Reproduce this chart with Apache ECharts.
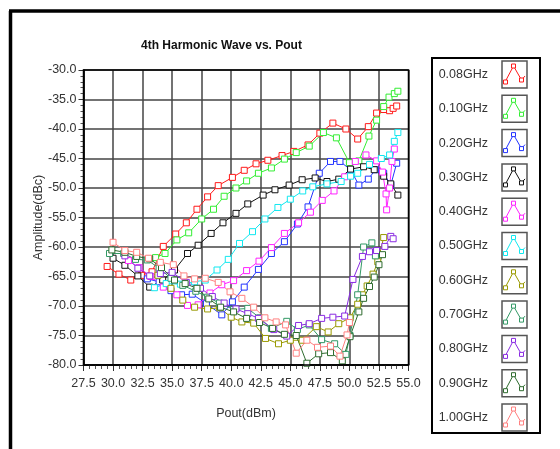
<!DOCTYPE html>
<html>
<head>
<meta charset="utf-8">
<script src="https://cdn.jsdelivr.net/npm/echarts@6/dist/echarts.min.js"></script>
<style>
html,body{margin:0;padding:0;background:#fff;}
#chart{width:560px;height:449px;}
</style>
</head>
<body>
<div id="chart"></div>
<script>
const chartTitle = '4th Harmonic Wave vs. Pout';
const xAxisName = 'Pout(dBm)';
const yAxisName = 'Amplitude(dBc)';
const seriesNames = ['0.08GHz','0.10GHz','0.20GHz','0.30GHz','0.40GHz','0.50GHz','0.60GHz','0.70GHz','0.80GHz','0.90GHz','1.00GHz'];
const seriesColors = ['#ff1a1a','#33ee33','#2233ff','#111111','#ff22ff','#11e8f0','#999900','#339966','#8a2be2','#2e6b2e','#ff8080'];

const f008 = [[29.5,-63.3],[30.5,-64.6],[31.5,-65.6],[32.4,-64.8],[33.3,-64.2],[34.25,-59.9],[35.3,-57.8],[36.2,-55.9],[37.1,-53.6],[38.0,-51.5],[38.9,-49.6],[40.1,-48.2],[41.1,-47.0],[42.1,-45.9],[43.1,-45.3],[44.3,-44.5],[45.3,-43.8],[46.5,-42.7],[47.5,-40.7],[48.6,-39.0],[49.7,-40.0],[50.7,-41.7],[51.6,-39.6],[52.3,-37.3],[52.9,-36.7],[53.4,-36.9],[53.7,-36.5],[54.0,-36.1]];
const f010 = [[33.6,-61.8],[34.4,-61.1],[35.4,-58.8],[36.4,-57.6],[37.5,-55.25],[38.5,-53.6],[39.4,-51.4],[40.4,-50.0],[41.3,-48.8],[42.3,-47.5],[43.4,-46.6],[44.5,-45.1],[45.5,-44.0],[46.6,-42.9],[47.8,-40.6],[48.9,-41.5],[50.0,-45.7],[50.8,-45.4],[51.65,-41.2],[52.3,-38.5],[52.9,-36.2],[53.35,-34.6],[53.8,-34.0],[54.1,-33.6]];
const f020 = [[32.9,-65.4],[33.9,-65.9],[34.9,-67.4],[35.8,-68.1],[36.7,-68.0],[37.9,-69.6],[39.2,-71.5],[40.1,-69.3],[41.1,-66.8],[42.3,-63.8],[43.4,-61.1],[44.5,-59.1],[45.6,-56.1],[46.5,-53.2],[47.45,-47.5],[48.4,-45.5],[49.2,-45.5],[50.1,-46.9],[50.8,-49.5],[51.6,-48.5],[52.2,-46.9],[52.9,-47.5],[53.5,-49.5],[54.0,-45.8]];
const f030 = [[30.0,-61.9],[31.0,-63.1],[32.1,-64.9],[33.1,-66.8],[34.2,-65.6],[35.2,-63.9],[36.3,-61.1],[37.2,-59.7],[38.3,-57.7],[39.3,-55.9],[40.4,-54.3],[41.4,-52.7],[42.7,-51.2],[43.7,-50.3],[44.9,-49.5],[46.0,-48.6],[47.1,-48.3],[48.1,-48.9],[49.1,-48.5],[50.1,-46.8],[51.2,-46.4],[52.1,-46.9],[52.9,-48.0],[53.5,-49.3],[54.1,-51.2]];
const f040 = [[31.3,-62.3],[32.2,-63.5],[33.2,-65.0],[34.25,-66.8],[35.4,-68.1],[36.3,-69.9],[37.2,-69.8],[38.2,-67.8],[39.2,-66.4],[40.2,-65.7],[41.3,-64.0],[42.35,-62.4],[43.4,-60.1],[44.5,-57.7],[45.7,-55.9],[46.7,-54.1],[47.7,-52.1],[48.7,-50.5],[49.6,-48.1],[50.5,-45.5],[51.4,-44.4],[52.3,-45.4],[52.8,-47.3],[53.1,-51.0],[53.15,-53.7],[53.4,-50.0],[53.6,-45.5],[53.8,-43.4]];
const f050 = [[33.5,-66.9],[34.5,-66.2],[35.7,-66.3],[36.9,-65.9],[37.8,-65.6],[38.8,-63.9],[39.75,-62.1],[40.7,-59.4],[41.8,-57.4],[42.85,-55.25],[43.95,-53.3],[45.0,-51.9],[46.05,-50.5],[46.9,-49.8],[48.1,-49.3],[49.3,-48.9],[50.1,-48.0],[50.7,-47.5],[51.7,-46.0],[52.7,-45.0],[53.4,-44.4],[53.8,-42.1],[54.1,-40.6]];
const f060 = [[33.8,-64.8],[34.9,-67.0],[35.9,-69.0],[36.9,-70.2],[38.0,-70.5],[39.0,-70.3],[40.0,-71.9],[40.9,-72.7],[41.9,-72.9],[42.9,-75.5],[44.0,-76.4],[45.0,-75.8],[46.0,-75.8],[47.2,-73.5],[48.2,-74.4],[49.1,-73.0],[50.05,-72.0],[50.7,-69.7],[51.1,-68.1],[51.5,-66.6],[52.0,-64.6],[52.4,-62.5],[52.9,-58.4]];
const f070 = [[29.7,-61.1],[30.9,-61.1],[31.9,-62.1],[32.9,-62.2],[33.9,-63.6],[34.9,-65.3],[35.9,-66.5],[37.0,-67.5],[38.0,-68.5],[39.0,-69.5],[40.2,-70.6],[41.4,-70.4],[42.4,-72.0],[43.4,-73.8],[44.7,-72.6],[45.6,-74.0],[46.6,-73.2],[47.65,-75.7],[48.75,-76.4],[49.7,-78.2],[50.05,-75.0],[50.7,-68.1],[51.2,-60.0],[51.9,-59.3],[52.2,-61.5]];
const f080 = [[31.0,-61.5],[32.1,-63.6],[33.1,-64.9],[34.0,-64.5],[35.0,-64.3],[36.2,-66.0],[37.4,-67.0],[38.4,-68.4],[39.4,-69.5],[40.4,-70.5],[41.4,-71.3],[42.3,-72.1],[43.6,-74.0],[44.7,-75.1],[45.7,-73.3],[46.6,-73.0],[47.65,-72.1],[48.6,-71.9],[49.6,-71.7],[50.3,-65.5],[51.1,-61.6],[51.7,-60.8],[52.3,-60.6],[53.0,-59.9],[53.5,-58.2],[53.7,-58.6]];
const f090 = [[29.9,-60.5],[31.0,-60.9],[32.0,-61.6],[33.1,-62.0],[34.1,-63.5],[35.2,-65.6],[36.1,-66.2],[37.1,-67.0],[38.1,-68.8],[39.1,-70.2],[40.2,-71.0],[41.3,-72.1],[42.4,-72.8],[43.5,-73.8],[44.5,-74.8],[45.5,-75.0],[46.4,-79.7],[47.4,-78.1],[48.4,-77.9],[49.4,-79.3],[50.05,-75.2],[50.8,-71.0],[51.2,-68.7],[51.7,-66.7],[52.1,-65.1],[52.5,-63.0],[52.8,-61.3]];
const f100 = [[30.0,-59.2],[31.0,-60.6],[32.0,-60.9],[33.0,-61.9],[34.0,-62.6],[35.1,-63.0],[36.0,-64.9],[36.9,-65.4],[37.8,-65.3],[38.9,-66.0],[39.9,-67.6],[40.9,-68.7],[41.9,-70.2],[42.85,-72.0],[43.8,-72.7],[44.6,-73.2],[45.5,-78.0],[46.4,-75.8],[47.3,-77.0],[48.4,-76.8],[49.2,-78.5],[49.8,-74.9],[50.0,-72.8]];

const allData = [f008,f010,f020,f030,f040,f050,f060,f070,f080,f090,f100];

const FONT = "'Liberation Sans', Arial, sans-serif";
const chart = echarts.init(document.getElementById('chart'), null, {renderer:'canvas'});

// legend layout values
const legTop = 61, itemH = 27, itemW = 25, legGap = 7.3, iconX = 502;
const legendDecor = [];
seriesNames.forEach((n,i)=>{
  const y0 = legTop + i*(itemH+legGap);
  const c = seriesColors[i];
  legendDecor.push({type:'polyline', shape:{points:[[iconX+3,y0+21],[iconX+11.5,y0+5],[iconX+19.5,y0+19],[iconX+23,y0+15]]},
    style:{fill:'none', stroke:c, lineWidth:1}, z:100});
  [[iconX+1.5,y0+19],[iconX+9.5,y0+3],[iconX+17.5,y0+17]].forEach(p=>{
    legendDecor.push({type:'rect', shape:{x:p[0], y:p[1], width:4, height:4},
      style:{fill:'#fff', stroke:c, lineWidth:1}, z:101});
  });
  legendDecor.push({type:'rect', shape:{x:iconX, y:y0, width:itemW, height:itemH},
    style:{fill:'none', stroke:'#555', lineWidth:1.5}, z:102});
});

const option = {
  backgroundColor:'#fff',
  animation:false,
  title:{
    text: chartTitle, left:136, top:35,
    textStyle:{fontFamily:FONT, fontSize:12, fontWeight:'bold', color:'#111'}
  },
  grid:{left:83.5, right:151.5, top:70, bottom:84, show:false},
  legend:{
    orient:'vertical', right:33, top:legTop, padding:0,
    align:'right', itemGap:legGap, itemWidth:itemW, itemHeight:itemH,
    icon:'rect',
    itemStyle:{color:'rgba(0,0,0,0)', borderWidth:0},
    textStyle:{fontFamily:FONT, fontSize:12.5, color:'#333', padding:[0,9,0,0]},
    data: seriesNames,
    selectedMode:false
  },
  xAxis:{
    type:'value', min:27.5, max:55, interval:2.5,
    name:xAxisName, nameLocation:'middle', nameGap:42, nameMoveOverlap:false,
    nameTextStyle:{fontFamily:FONT, fontSize:12.5, color:'#333'},
    axisLine:{show:true, onZero:false, lineStyle:{color:'#000', width:1.5}},
    axisTick:{show:true, length:6, lineStyle:{color:'#333'}},
    minorTick:{show:true, splitNumber:5, length:4, lineStyle:{color:'#555'}},
    axisLabel:{fontFamily:FONT, fontSize:12.5, color:'#333', margin:12, formatter:v=>v.toFixed(1), showMinLabel:true, showMaxLabel:true},
    splitLine:{show:true, lineStyle:{color:'#444', width:1.5}}
  },
  yAxis:{
    type:'value', min:-80, max:-30, interval:5,
    name:yAxisName, nameLocation:'middle', nameGap:38, nameMoveOverlap:false,
    nameTextStyle:{fontFamily:FONT, fontSize:12.5, color:'#333'},
    axisLine:{show:true, onZero:false, lineStyle:{color:'#000', width:1.5}},
    axisTick:{show:true, length:5, lineStyle:{color:'#333'}},
    minorTick:{show:true, splitNumber:5, length:3, lineStyle:{color:'#555'}},
    axisLabel:{fontFamily:FONT, fontSize:12.5, color:'#333', margin:7, formatter:v=>v.toFixed(1)},
    splitLine:{show:true, lineStyle:{color:'#444', width:1.5}}
  },
  series: allData.map((d,i)=>({
    name: seriesNames[i], type:'line', data:d,
    symbol:'rect', symbolSize:6, showAllSymbol:true,
    itemStyle:{color:'#fff', borderColor:seriesColors[i], borderWidth:1},
    lineStyle:{color:seriesColors[i], width:1},
    emphasis:{disabled:true}
  })),
  graphic:[
    {type:'rect', shape:{x:83.5, y:70, width:325, height:295}, style:{fill:'none', stroke:'#000', lineWidth:1.5}, z:50, silent:true},
    {type:'rect', shape:{x:432, y:58, width:108, height:375}, style:{fill:'none', stroke:'#000', lineWidth:2}, z:100},
    {type:'line', shape:{x1:10.5, y1:11, x2:10.5, y2:449}, style:{stroke:'#000', lineWidth:3.5}},
    {type:'line', shape:{x1:9, y1:11, x2:560, y2:11}, style:{stroke:'#000', lineWidth:3.5}}
  ].concat(legendDecor)
};
chart.setOption(option);
</script>
</body>
</html>
